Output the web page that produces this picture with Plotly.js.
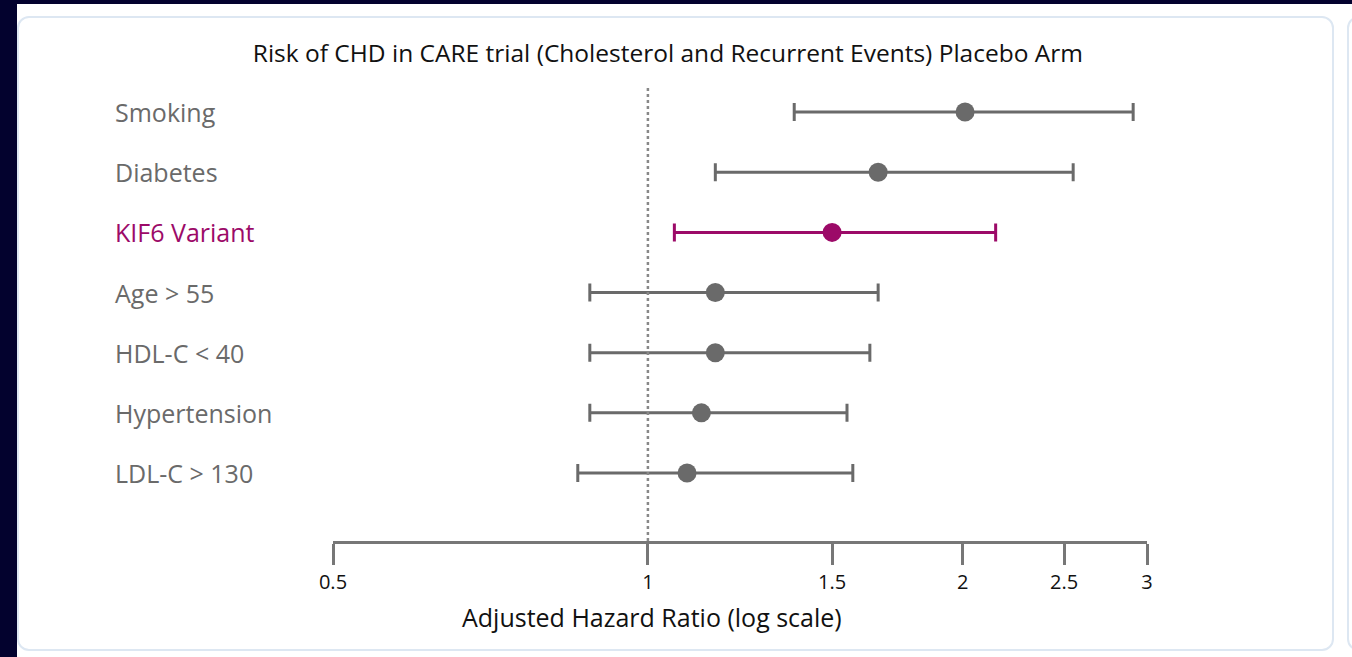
<!DOCTYPE html>
<html>
<head>
<meta charset="utf-8">
<script src="https://cdn.plot.ly/plotly-3.0.1.min.js"></script>
<style>
  html, body { margin: 0; padding: 0; width: 1352px; height: 657px; overflow: hidden; background: #ffffff; }
  #leftband { position: absolute; left: 0; top: 0; width: 17px; height: 657px; background: #03022e; }
  #topband { position: absolute; left: 0; top: 0; width: 1352px; height: 4px; background: #03022e; }
  #card { position: absolute; left: 17px; top: 16px; width: 1317px; height: 635px; border: 2px solid #dde7f2; border-radius: 12px; background: #fff; box-sizing: border-box; }
  #card2 { position: absolute; left: 1347px; top: 16px; width: 40px; height: 635px; border: 2px solid #dde7f2; border-radius: 12px; background: #fff; box-sizing: border-box; }
  #chart { position: absolute; left: 0; top: 0; width: 1352px; height: 657px; }
</style>
</head>
<body>
<div id="leftband"></div>
<div id="topband"></div>
<div id="card"></div>
<div id="card2"></div>
<div id="chart"></div>
<script>
// ---- data ----
const categories = ['Smoking', 'Diabetes', 'KIF6 Variant', 'Age > 55', 'HDL-C < 40', 'Hypertension', 'LDL-C > 130'];
const hazardRatio = [2.01, 1.66, 1.50, 1.16, 1.16, 1.125, 1.09];
const ciLower     = [1.38, 1.16, 1.06, 0.88, 0.88, 0.88, 0.857];
const ciUpper     = [2.91, 2.55, 2.15, 1.66, 1.63, 1.55, 1.57];
const tickValues  = [0.5, 1, 1.5, 2, 2.5, 3];
const tickLabels  = ['0.5', '1', '1.5', '2', '2.5', '3'];
const highlighted = 'KIF6 Variant';
const chartTitle  = 'Risk of CHD in CARE trial (Cholesterol and Recurrent Events) Placebo Arm';
const xAxisTitle  = 'Adjusted Hazard Ratio (log scale)';

const GREY = '#6a6a6a';
const MAGENTA = '#9c0a68';
const FONT = '"Open Sans", Lato, sans-serif';

const traces = categories.map((c, i) => {
  const col = c === highlighted ? MAGENTA : GREY;
  return {
    type: 'scatter',
    mode: 'markers',
    x: [hazardRatio[i]],
    y: [c],
    marker: { size: 19, color: col },
    error_x: {
      type: 'data', symmetric: false,
      array: [ciUpper[i] - hazardRatio[i]],
      arrayminus: [hazardRatio[i] - ciLower[i]],
      color: col, thickness: 3, width: 9
    },
    hoverinfo: 'x+y',
    showlegend: false
  };
});

const annotations = categories.map(c => ({
  xref: 'paper', yref: 'y', x: -0.2703, y: c,
  xanchor: 'left', yanchor: 'middle',
  text: c, showarrow: false,
  font: { family: FONT, size: 25, color: c === highlighted ? MAGENTA : GREY }
}));
annotations.push({
  xref: 'paper', yref: 'paper', x: 0.392, y: -0.166,
  xanchor: 'center', yanchor: 'middle',
  text: xAxisTitle, showarrow: false,
  font: { family: FONT, size: 25, color: '#111' }
});

const layout = {
  width: 1352, height: 657,
  margin: { l: 333, r: 205, t: 82, b: 116 },
  paper_bgcolor: 'rgba(0,0,0,0)',
  plot_bgcolor: 'rgba(0,0,0,0)',
  title: {
    text: chartTitle,
    xref: 'container', yref: 'container', x: 0.494, y: 1 - 53 / 657,
    xanchor: 'center', yanchor: 'middle',
    font: { family: FONT, size: 24.5, color: '#111' }
  },
  xaxis: {
    type: 'log',
    range: [Math.log10(0.5), Math.log10(3)],
    tickvals: tickValues, ticktext: tickLabels,
    showgrid: false, zeroline: false,
    showline: true, linecolor: '#777', linewidth: 3,
    ticks: 'outside', ticklen: 21, tickwidth: 3, tickcolor: '#777',
    tickfont: { family: FONT, size: 20, color: '#111' },
    fixedrange: true
  },
  yaxis: {
    type: 'category',
    categoryorder: 'array', categoryarray: categories,
    range: [7.13, -0.5],
    showticklabels: false, showgrid: false, zeroline: false, showline: false,
    fixedrange: true
  },
  shapes: [{
    type: 'line', xref: 'x', yref: 'y',
    x0: 1, x1: 1, y0: -0.4, y1: 7.13,
    line: { color: '#888', width: 2.5, dash: 'dot' }
  }],
  annotations: annotations
};

Plotly.newPlot('chart', traces, layout, { displayModeBar: false, staticPlot: true });
</script>
</body>
</html>
